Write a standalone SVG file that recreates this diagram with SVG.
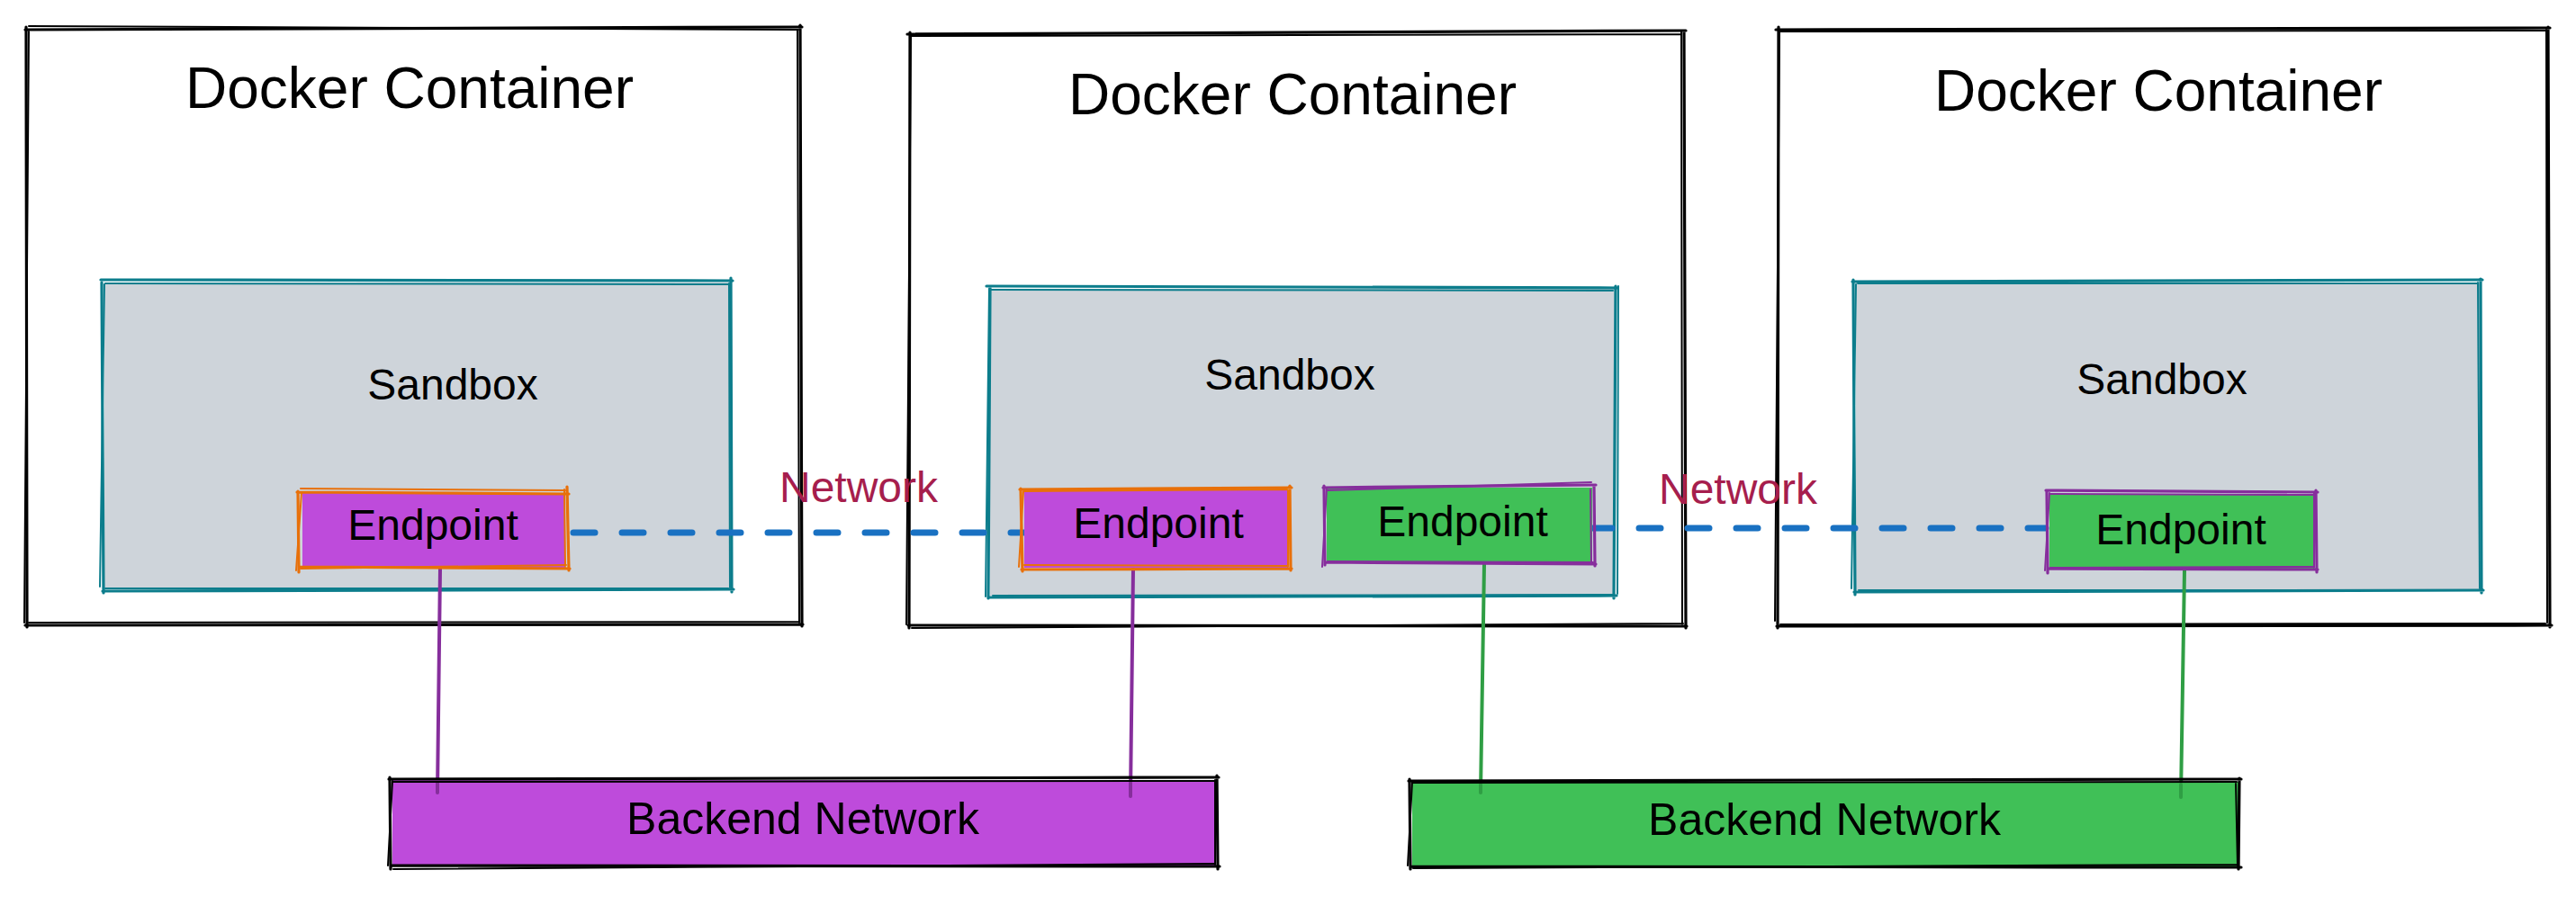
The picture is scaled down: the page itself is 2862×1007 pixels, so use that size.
<svg xmlns="http://www.w3.org/2000/svg" width="2862" height="1007" viewBox="0 0 2862 1007">
<style>
text{font-family:"Liberation Sans",Arial,sans-serif;text-anchor:middle;fill:#000}
.title{font-size:64px}
.lbl{font-size:48px}
.bk{font-size:50px}
.net{font-size:48px;fill:#a61e4d}
.sk{fill:none;stroke-linecap:round;stroke-linejoin:round}
.s1{stroke-width:3.2}
.s2{stroke-width:2}
.blk{stroke:#000}
.teal{stroke:#0c7d8c}
.org{stroke:#e8700a}
.pur{stroke:#862e9c}
.gray{fill:#ced4da}
.pfill{fill:#be4bdb}
.gfill{fill:#40c057}
.dash{stroke:#1971c2;stroke-width:7;stroke-dasharray:24 30;stroke-linecap:round;fill:none}
.plink{stroke:#862e9c;stroke-width:4;stroke-linecap:round;fill:none}
.glink{stroke:#2f9e44;stroke-width:4;stroke-linecap:round;fill:none}
</style>
<rect width="2862" height="1007" fill="#fff"/>

<g id="container1">
<path class="sk s1 blk" d="M28 33 L891 30 M889 28 L891 696 M892 694 L28 695 M30 697 L29 30"/>
<path class="sk s2 blk" d="M32 29 L887 33 M886 34 L888 692 M887 691 L32 692 M27 692 L32 35"/>
<text class="title" x="455" y="120">Docker Container</text>
</g>
<g id="container2">
<path class="sk s1 blk" d="M1008 38 L1873 34 M1871 36 L1873 698 M1874 696 L1009 695 M1010 698 L1011 36"/>
<path class="sk s2 blk" d="M1012 40 L1868 38 M1868 35 L1869 694 M1870 693 L1013 698 M1007 694 L1012 39"/>
<text class="title" x="1436" y="127">Docker Container</text>
</g>
<g id="container3">
<path class="sk s1 blk" d="M1973 33 L2833 31 M2831 30 L2833 697 M2835 695 L1974 696 M1975 698 L1976 30"/>
<path class="sk s2 blk" d="M1978 35 L2829 34 M2829 33 L2830 692 M2828 693 L1978 694 M1972 690 L1977 36"/>
<text class="title" x="2398" y="123">Docker Container</text>
</g>

<g id="sandbox1">
<rect class="gray" x="116" y="314" width="695" height="341"/>
<path class="sk s1 teal" d="M112 311 L814 312 M812 309 L813 658 M815 655 L114 657 M115 659 L113 314"/>
<path class="sk s2 teal" d="M117 315 L810 316 M810 315 L811 653 M809 654 L117 654 M111 652 L116 316"/>
<text class="lbl" x="503" y="444">Sandbox</text>
</g>
<g id="sandbox2">
<rect class="gray" x="1100" y="321" width="694" height="341"/>
<path class="sk s1 teal" d="M1096 318 L1797 320 M1795 318 L1793 665 M1796 662 L1099 664 M1098 665 L1100 320"/>
<path class="sk s2 teal" d="M1101 322 L1792 323 M1798 318 L1797 660 M1793 661 L1103 662 M1095 663 L1099 321"/>
<text class="lbl" x="1433" y="433">Sandbox</text>
</g>
<g id="sandbox3">
<rect class="gray" x="2062" y="314" width="693" height="342"/>
<path class="sk s1 teal" d="M2058 313 L2758 311 M2756 310 L2757 659 M2759 656 L2060 658 M2061 661 L2059 311"/>
<path class="sk s2 teal" d="M2064 315 L2753 315 M2753 314 L2755 654 M2752 656 L2065 656 M2057 654 L2062 316"/>
<text class="lbl" x="2402" y="438">Sandbox</text>
</g>

<g id="connectors">
<path class="dash" d="M637 592 L1149 592"/>
<path class="dash" d="M1767 587 L2273 587"/>
<path class="plink" d="M489 632 L486 881"/>
<path class="plink" d="M1259 632 L1256 885"/>
<path class="glink" d="M1649 627 L1645 881"/>
<path class="glink" d="M2427 634 L2423 886"/>
<text class="net" x="954" y="558">Network</text>
<text class="net" x="1931" y="560">Network</text>
</g>

<g id="endpoint1">
<rect class="pfill" x="336" y="548" width="292" height="84"/>
<path class="sk s1 org" d="M330 547 L632 549 M630 541 L632 634 M633 632 L333 630 M332 636 L331 546"/>
<path class="sk s2 org" d="M334 543 L628 545 M627 544 L628 630 M629 628 L334 632 M329 634 L335 548"/>
<text class="lbl" x="481" y="600">Endpoint</text>
</g>
<g id="endpoint2">
<rect class="pfill" x="1138" y="545" width="293" height="86"/>
<path class="sk s1 org" d="M1133 544 L1435 542 M1433 540 L1434 634 M1435 632 L1135 633 M1136 635 L1134 543"/>
<path class="sk s2 org" d="M1138 546 L1430 544 M1431 545 L1431 630 M1430 629 L1138 628 M1132 630 L1137 546"/>
<text class="lbl" x="1287" y="598">Endpoint</text>
</g>
<g id="endpoint3">
<rect class="gfill" x="1474" y="542" width="295" height="84"/>
<path class="sk s1 pur" d="M1470 542 L1773 539 M1771 541 L1772 629 M1773 627 L1473 625 M1472 628 L1471 540"/>
<path class="sk s2 pur" d="M1474 545 L1768 536 M1767 544 L1768 624 M1770 625 L1475 624 M1469 630 L1474 543"/>
<text class="lbl" x="1625" y="596">Endpoint</text>
</g>
<g id="endpoint4">
<rect class="gfill" x="2277" y="549" width="294" height="84"/>
<path class="sk s1 pur" d="M2273 545 L2575 547 M2573 545 L2574 636 M2575 633 L2276 632 M2275 637 L2274 545"/>
<path class="sk s2 pur" d="M2278 549 L2570 550 M2571 548 L2571 631 M2570 630 L2278 631 M2272 634 L2277 548"/>
<text class="lbl" x="2423" y="605">Endpoint</text>
</g>

<g id="backend1">
<rect class="pfill" x="436" y="867" width="915" height="96"/>
<path class="plink" d="M486 870 L486 881"/>
<path class="plink" d="M1256 870 L1256 885"/>
<path class="sk s1 blk" d="M432 866 L1354 864 M1352 862 L1353 966 M1355 963 L435 962 M434 966 L433 864"/>
<path class="sk s2 blk" d="M437 869 L1349 868 M1350 867 L1350 961 M1349 960 L437 966 M431 962 L436 868"/>
<text class="bk" x="892" y="927">Backend Network</text>
</g>
<g id="backend2">
<rect class="gfill" x="1569" y="869" width="918" height="94"/>
<path class="glink" d="M1645 872 L1645 881"/>
<path class="glink" d="M2423 872 L2423 886"/>
<path class="sk s1 blk" d="M1565 868 L2490 866 M2488 865 L2487 966 M2490 964 L1568 963 M1567 966 L1566 866"/>
<path class="sk s2 blk" d="M1570 870 L2485 869 M2484 870 L2486 962 M2485 961 L1570 965 M1564 962 L1569 869"/>
<text class="bk" x="2027" y="928">Backend Network</text>
</g>
</svg>
